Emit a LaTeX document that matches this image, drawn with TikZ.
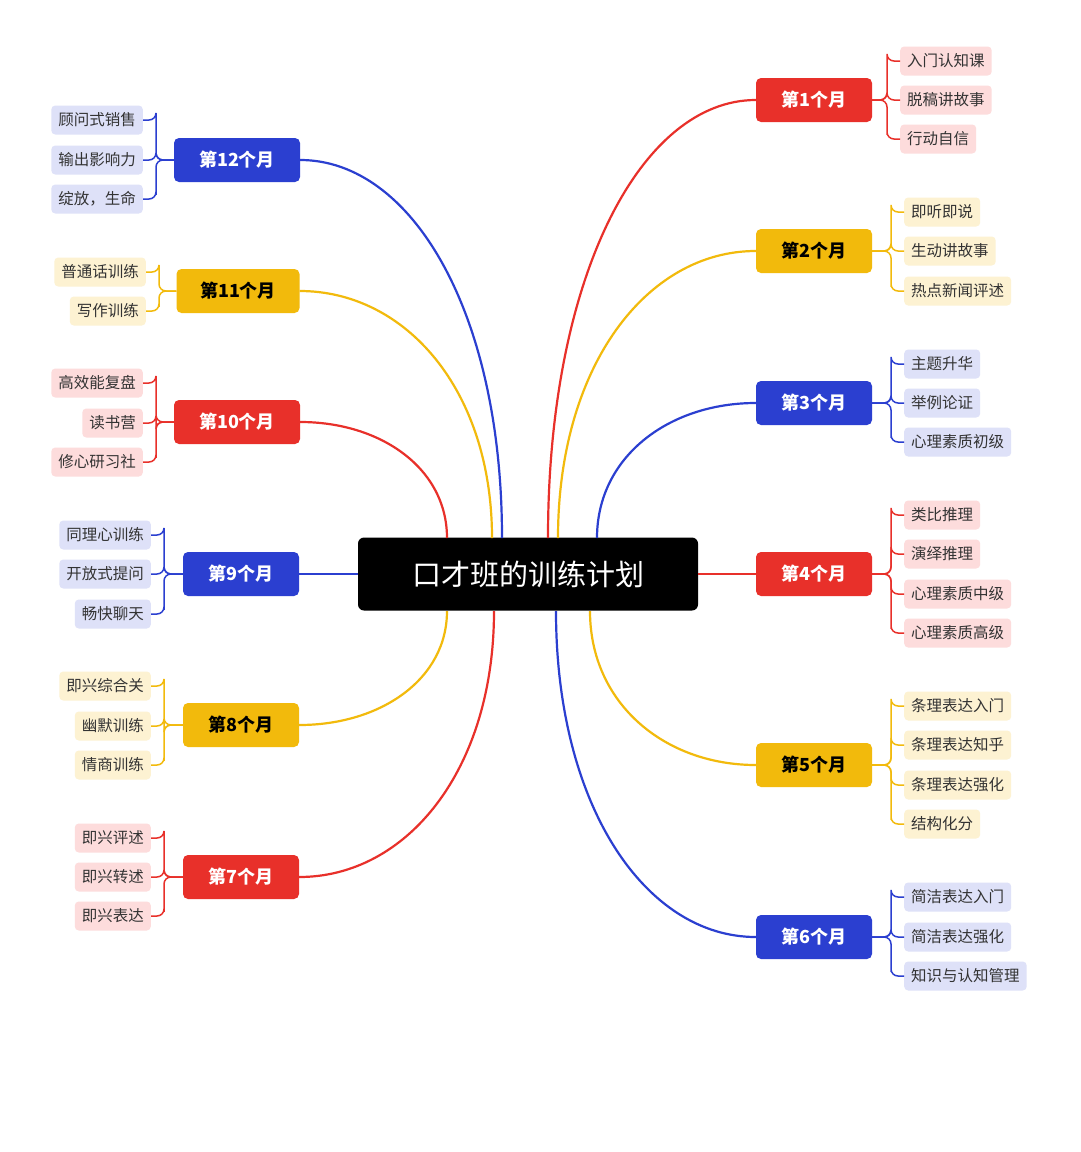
\documentclass[tikz,border=0pt]{standalone}
\usepackage{fontspec}
\usetikzlibrary{calc}
\setmainfont{Noto Sans CJK SC}
\begin{document}
\begin{tikzpicture}[x=1pt,y=-1pt,
 cR/.style={fill=mR,text=white},cY/.style={fill=mY,text=black},cB/.style={fill=mB,text=white},
 month/.style={rounded corners=5pt,minimum width=116pt,minimum height=44pt,font=\fontsize{18}{20}\selectfont\bfseries,inner sep=0pt},
 leaf/.style={rounded corners=4pt,minimum height=29pt,inner xsep=7pt,font=\fontsize{15.5}{17}\selectfont,text=black!80},
 lR/.style={leaf,fill=lR},lY/.style={leaf,fill=lY},lB/.style={leaf,fill=lB},
 link/.style={line width=2.2pt},
 br/.style={line width=1.5pt,rounded corners=7pt}]
\definecolor{mR}{HTML}{E8302A}\definecolor{mY}{HTML}{F2BA0C}\definecolor{mB}{HTML}{2B3FD0}
\definecolor{lR}{HTML}{FDDCDC}\definecolor{lY}{HTML}{FDF2D2}\definecolor{lB}{HTML}{DEE1F8}
\useasboundingbox[fill=white] (0,0) rectangle (1080,1152);
\node[fill=black,rounded corners=6pt,minimum width=340pt,minimum height=73pt,text=white,font=\fontsize{29}{32}\selectfont] (c) at (528,574) {口才班的训练计划};
% month nodes
\node[month,cR] (m1) at (814,100) {第1个月};
\node[month,cY] (m2) at (814,251) {第2个月};
\node[month,cB] (m3) at (814,403) {第3个月};
\node[month,cR] (m4) at (814,574) {第4个月};
\node[month,cY] (m5) at (814,765) {第5个月};
\node[month,cB] (m6) at (814,937) {第6个月};
\node[month,cB,minimum width=126pt] (m12) at (237,160) {第12个月};
\node[month,cY,minimum width=123pt] (m11) at (238,291) {第11个月};
\node[month,cR,minimum width=126pt] (m10) at (237,422) {第10个月};
\node[month,cB] (m9) at (241,574) {第9个月};
\node[month,cY] (m8) at (241,725) {第8个月};
\node[month,cR] (m7) at (241,877) {第7个月};
% start coords
\coordinate (s1) at (548,538);\coordinate (s2) at (558,538);\coordinate (s3) at (597,538);
\coordinate (s5) at (590,611);\coordinate (s6) at (556,611);
\coordinate (s12) at (502,538);\coordinate (s11) at (492,538);\coordinate (s10) at (447,538);
\coordinate (s8) at (447,611);\coordinate (s7) at (494,611);
\foreach \s/\t/\c in {s1/m1.west/mR,s2/m2.west/mY,s3/m3.west/mB,s5/m5.west/mY,s6/m6.west/mB,
 s12/m12.east/mB,s11/m11.east/mY,s10/m10.east/mR,s8/m8.east/mY,s7/m7.east/mR}
 \draw[link,\c] (\s) .. controls ($(\s)!0.6!(\s |- \t)$) and ($(\s |- \t)!0.45!(\t)$) .. (\t);
\draw[link,mR] (c.east) -- (m4.west);
\draw[link,mB] (c.west) -- (m9.east);
% right leaves
\node[lR,anchor=west] (a1) at (900,61) {入门认知课};
\node[lR,anchor=west] (a2) at (900,100) {脱稿讲故事};
\node[lR,anchor=west] (a3) at (900,139) {行动自信};
\node[lY,anchor=west] (b1) at (904,212) {即听即说};
\node[lY,anchor=west] (b2) at (904,251) {生动讲故事};
\node[lY,anchor=west] (b3) at (904,291) {热点新闻评述};
\node[lB,anchor=west] (d1) at (904,364) {主题升华};
\node[lB,anchor=west] (d2) at (904,403) {举例论证};
\node[lB,anchor=west] (d3) at (904,442) {心理素质初级};
\node[lR,anchor=west] (e1) at (904,515) {类比推理};
\node[lR,anchor=west] (e2) at (904,554) {演绎推理};
\node[lR,anchor=west] (e3) at (904,594) {心理素质中级};
\node[lR,anchor=west] (e4) at (904,633) {心理素质高级};
\node[lY,anchor=west] (f1) at (904,706) {条理表达入门};
\node[lY,anchor=west] (f2) at (904,745) {条理表达知乎};
\node[lY,anchor=west] (f3) at (904,785) {条理表达强化};
\node[lY,anchor=west] (f4) at (904,824) {结构化分};
\node[lB,anchor=west] (g1) at (904,897) {简洁表达入门};
\node[lB,anchor=west] (g2) at (904,937) {简洁表达强化};
\node[lB,anchor=west] (g3) at (904,976) {知识与认知管理};
\foreach \m/\l/\c in {m1/a1/mR,m1/a2/mR,m1/a3/mR,m2/b1/mY,m2/b2/mY,m2/b3/mY,m3/d1/mB,m3/d2/mB,m3/d3/mB,
 m4/e1/mR,m4/e2/mR,m4/e3/mR,m4/e4/mR,m5/f1/mY,m5/f2/mY,m5/f3/mY,m5/f4/mY,m6/g1/mB,m6/g2/mB,m6/g3/mB}
 \draw[br,\c] (\m.east) -| ([xshift=-13pt]\l.west) |- (\l.west);
% left leaves
\node[lB,anchor=east] (h1) at (143,120) {顾问式销售};
\node[lB,anchor=east] (h2) at (143,160) {输出影响力};
\node[lB,anchor=east] (h3) at (143,199) {绽放，生命};
\node[lY,anchor=east] (i1) at (146,272) {普通话训练};
\node[lY,anchor=east] (i2) at (146,311) {写作训练};
\node[lR,anchor=east] (j1) at (143,383) {高效能复盘};
\node[lR,anchor=east] (j2) at (143,423) {读书营};
\node[lR,anchor=east] (j3) at (143,462) {修心研习社};
\node[lB,anchor=east] (k1) at (151,535) {同理心训练};
\node[lB,anchor=east] (k2) at (151,574) {开放式提问};
\node[lB,anchor=east] (k3) at (151,614) {畅快聊天};
\node[lY,anchor=east] (n1) at (151,686) {即兴综合关};
\node[lY,anchor=east] (n2) at (151,726) {幽默训练};
\node[lY,anchor=east] (n3) at (151,765) {情商训练};
\node[lR,anchor=east] (p1) at (151,838) {即兴评述};
\node[lR,anchor=east] (p2) at (151,877) {即兴转述};
\node[lR,anchor=east] (p3) at (151,916) {即兴表达};
\foreach \m/\l/\c in {m12/h1/mB,m12/h2/mB,m12/h3/mB,m11/i1/mY,m11/i2/mY,m10/j1/mR,m10/j2/mR,m10/j3/mR,
 m9/k1/mB,m9/k2/mB,m9/k3/mB,m8/n1/mY,m8/n2/mY,m8/n3/mY,m7/p1/mR,m7/p2/mR,m7/p3/mR}
 \draw[br,\c] (\m.west) -| ([xshift=13pt]\l.east) |- (\l.east);
\end{tikzpicture}
\end{document}
